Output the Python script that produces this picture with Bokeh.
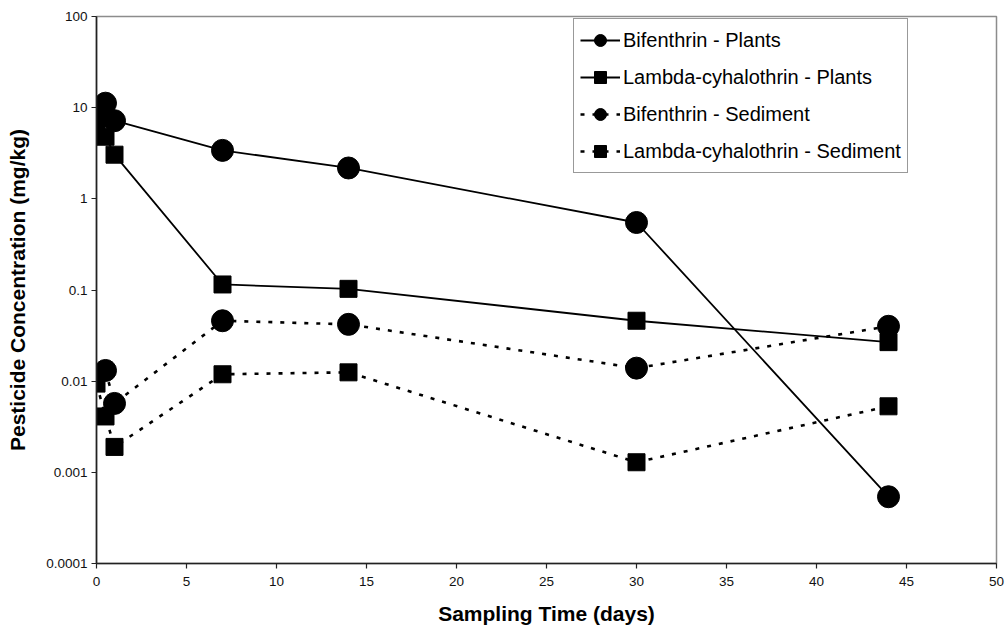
from bokeh.plotting import figure
from bokeh.models import Range1d, FixedTicker, Legend, LegendItem
from bokeh.embed import file_html
from bokeh.resources import INLINE

# ---------------- data ----------------
days_bif_plants = [0, 0.5, 1, 7, 14, 30, 44]
bif_plants = [7.8, 11.2, 7.2, 3.4, 2.18, 0.55, 0.00054]

days_lam_plants = [0, 0.5, 1, 7, 14, 30, 44]
lam_plants = [7.2, 4.8, 3.05, 0.115, 0.103, 0.046, 0.0268]

days_bif_sed = [0.5, 1, 7, 14, 30, 44]
bif_sed = [0.0131, 0.0057, 0.046, 0.042, 0.0139, 0.040]

days_lam_sed = [0, 0.5, 1, 7, 14, 30, 44]
lam_sed = [0.0094, 0.0041, 0.0019, 0.0119, 0.0125, 0.00129, 0.0053]

series_names = ["Bifenthrin - Plants", "Lambda-cyhalothrin - Plants",
                "Bifenthrin - Sediment", "Lambda-cyhalothrin - Sediment"]

x_ticks = [0, 5, 10, 15, 20, 25, 30, 35, 40, 45, 50]
y_ticks = [0.0001, 0.001, 0.01, 0.1, 1, 10, 100]
y_tick_labels = ["0.0001", "0.001", "0.01", "0.1", "1", "10", "100"]

x_title = "Sampling Time (days)"
y_title = "Pesticide Concentration (mg/kg)"

FONT = "Liberation Sans"

# ---------------- figure ----------------
p = figure(width=1006, height=634, y_axis_type="log",
           x_range=Range1d(0, 50), y_range=Range1d(0.0001, 100),
           output_backend="svg", toolbar_location=None,
           min_border_left=96, min_border_right=10,
           min_border_top=16, min_border_bottom=71)
p.background_fill_color = "white"
p.border_fill_color = "white"
p.outline_line_color = "#8c8c8c"
p.outline_line_width = 1.5
p.xgrid.visible = False
p.ygrid.visible = False

for ax in (p.xaxis[0], p.yaxis[0]):
    ax.axis_line_color = "#222222"
    ax.axis_line_width = 1.6
    ax.major_tick_line_color = "#222222"
    ax.major_tick_line_width = 1.2
    ax.major_tick_out = 5
    ax.major_tick_in = 0
    ax.minor_tick_line_color = None
    ax.major_label_text_font = FONT
    ax.major_label_text_font_size = "13.5px"
    ax.major_label_text_color = "#111111"
    ax.axis_label_text_font = FONT
    ax.axis_label_text_font_style = "bold"
    ax.axis_label_text_font_size = "21px"
    ax.axis_label_text_color = "#000000"

p.xaxis.ticker = FixedTicker(ticks=x_ticks)
p.xaxis.major_label_standoff = 8
p.xaxis.axis_label = x_title
p.xaxis.axis_label_standoff = 13

p.yaxis.ticker = FixedTicker(ticks=y_ticks)
p.yaxis.major_label_overrides = {float(v): s for v, s in zip(y_ticks, y_tick_labels)}
p.yaxis.major_label_standoff = 4
p.yaxis.axis_label = y_title
p.yaxis.axis_label_standoff = 14

items = []

# Bifenthrin - Plants
r1l = p.line(days_bif_plants, bif_plants, line_color="black", line_width=1.8)
r1m = p.scatter(days_bif_plants, bif_plants, marker="circle", size=22,
                fill_color="black", line_color="black")
items.append(LegendItem(label=series_names[0], renderers=[r1l, r1m]))

# Lambda-cyhalothrin - Plants
r2l = p.line(days_lam_plants, lam_plants, line_color="black", line_width=1.8)
r2m = p.scatter(days_lam_plants, lam_plants, marker="square", size=17,
                fill_color="black", line_color="black")
items.append(LegendItem(label=series_names[1], renderers=[r2l, r2m]))

# Bifenthrin - Sediment (dotted)
r3l = p.line(days_bif_sed, bif_sed, line_color="black", line_width=2.6,
             line_dash="4 8")
r3m = p.scatter(days_bif_sed, bif_sed, marker="circle", size=22,
                fill_color="black", line_color="black")
items.append(LegendItem(label=series_names[2], renderers=[r3l, r3m]))

# Lambda-cyhalothrin - Sediment (dotted)
r4l = p.line(days_lam_sed, lam_sed, line_color="black", line_width=2.6,
             line_dash="4 8")
r4m = p.scatter(days_lam_sed, lam_sed, marker="square", size=17,
                fill_color="black", line_color="black")
items.append(LegendItem(label=series_names[3], renderers=[r4l, r4m]))

legend = Legend(items=items, location=(477, 390))
legend.border_line_color = "#333333"
legend.border_line_width = 1.2
legend.background_fill_color = "white"
legend.background_fill_alpha = 1.0
legend.label_text_font = FONT
legend.label_text_font_size = "20px"
legend.label_text_color = "#000000"
legend.glyph_width = 40
legend.glyph_height = 30
legend.label_height = 30
legend.label_standoff = 3
legend.spacing = 7
legend.padding = 6
legend.margin = 0
p.add_layout(legend)

open("out.html", "w").write(file_html(p, INLINE))
